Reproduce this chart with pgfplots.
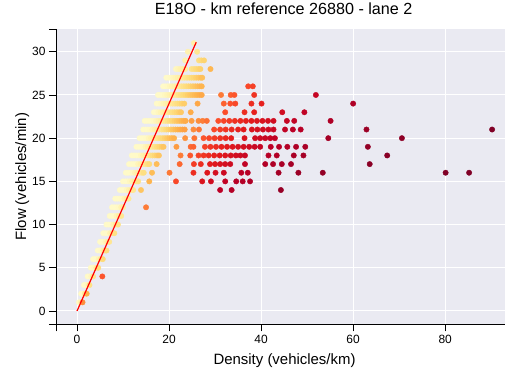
\documentclass[border=0pt]{standalone}
\usepackage{fontspec}
\setmainfont{Liberation Sans}
\usepackage{pgfplots}
\usepackage{pgfplotstable}
\pgfplotsset{compat=1.18}
\definecolor{bgc}{HTML}{EAEAF2}
\pgfplotstableread[row sep=\\]{
d q\\
0.4 1\\ 0.8 1\\ 1.2 1\\
0.9 2\\ 1.3 2\\ 1.7 2\\ 2.1 2\\
1.5 3\\ 1.9 3\\ 2.3 3\\ 2.7 3\\
2.3 4\\ 2.7 4\\ 3.1 4\\ 3.5 4\\ 5.5 4\\
3.0 5\\ 3.4 5\\ 3.8 5\\ 4.2 5\\ 4.6 5\\
3.5 6\\ 3.9 6\\ 4.3 6\\ 4.7 6\\ 5.1 6\\ 5.6 6\\
4.5 7\\ 4.9 7\\ 5.3 7\\ 5.7 7\\ 6.1 7\\ 6.4 7\\
5.0 8\\ 5.4 8\\ 5.8 8\\ 6.2 8\\ 6.6 8\\ 7.0 8\\
5.7 9\\ 6.2 9\\ 6.7 9\\ 7.2 9\\ 7.7 9\\ 8.1 9\\
6.4 10\\ 6.9 10\\ 7.4 10\\ 7.9 10\\ 8.4 10\\ 8.9 10\\
7.1 11\\ 7.6 11\\ 8.1 11\\ 8.6 11\\ 9.1 11\\ 9.6 11\\
7.6 12\\ 8.1 12\\ 8.6 12\\ 9.1 12\\ 9.6 12\\ 10.0 12\\ 15.0 12\\
8.3 13\\ 8.8 13\\ 9.3 13\\ 9.8 13\\ 10.3 13\\ 10.8 13\\ 11.2 13\\
9.3 14\\ 9.8 14\\ 10.3 14\\ 10.8 14\\ 11.3 14\\ 11.8 14\\ 12.2 14\\ 13.9 14\\ 31.1 14\\ 33.6 14\\ 44.3 14\\
10.0 15\\ 10.5 15\\ 11.0 15\\ 11.5 15\\ 12.0 15\\ 12.5 15\\ 13.0 15\\ 13.3 15\\ 15.7 15\\ 21.5 15\\ 27.2 15\\ 29.1 15\\ 32.2 15\\ 34.6 15\\ 36.0 15\\ 37.6 15\\
10.6 16\\ 11.1 16\\ 11.6 16\\ 12.1 16\\ 12.6 16\\ 13.1 16\\ 13.6 16\\ 14.1 16\\ 14.5 16\\ 16.3 16\\ 20.1 16\\ 25.3 16\\ 28.3 16\\ 30.1 16\\ 31.9 16\\ 35.7 16\\ 37.1 16\\ 43.8 16\\ 48.1 16\\ 53.4 16\\ 80.1 16\\ 85.2 16\\
11.3 17\\ 11.8 17\\ 12.3 17\\ 12.8 17\\ 13.3 17\\ 13.8 17\\ 14.3 17\\ 14.8 17\\ 15.3 17\\ 15.7 17\\ 17.3 17\\ 22.3 17\\ 25.4 17\\ 26.9 17\\ 28.9 17\\ 30.0 17\\ 31.1 17\\ 32.2 17\\ 33.3 17\\ 36.5 17\\ 40.9 17\\ 42.6 17\\ 44.5 17\\ 46.5 17\\ 63.6 17\\
11.9 18\\ 12.4 18\\ 12.9 18\\ 13.4 18\\ 13.9 18\\ 14.4 18\\ 14.9 18\\ 15.4 18\\ 15.9 18\\ 16.4 18\\ 16.9 18\\ 17.4 18\\ 17.8 18\\ 22.5 18\\ 24.6 18\\ 26.4 18\\ 27.5 18\\ 28.6 18\\ 29.8 18\\ 31.0 18\\ 32.2 18\\ 33.4 18\\ 34.5 18\\ 35.5 18\\ 36.5 18\\ 41.6 18\\ 43.4 18\\ 47.1 18\\ 49.2 18\\ 67.4 18\\
12.9 19\\ 13.4 19\\ 13.9 19\\ 14.4 19\\ 14.9 19\\ 15.4 19\\ 15.9 19\\ 16.4 19\\ 16.9 19\\ 17.4 19\\ 17.9 19\\ 18.4 19\\ 18.8 19\\ 21.6 19\\ 24.7 19\\ 25.3 19\\ 27.8 19\\ 29.0 19\\ 30.2 19\\ 31.4 19\\ 32.6 19\\ 33.8 19\\ 35.0 19\\ 36.2 19\\ 37.4 19\\ 38.6 19\\ 39.8 19\\ 42.1 19\\ 43.9 19\\ 45.7 19\\ 47.6 19\\ 49.6 19\\ 63.2 19\\
13.6 20\\ 14.1 20\\ 14.6 20\\ 15.1 20\\ 15.6 20\\ 16.1 20\\ 16.6 20\\ 17.1 20\\ 17.6 20\\ 18.1 20\\ 18.6 20\\ 19.1 20\\ 19.6 20\\ 20.1 20\\ 20.6 20\\ 21.1 20\\ 23.5 20\\ 25.5 20\\ 27.5 20\\ 28.7 20\\ 29.9 20\\ 31.1 20\\ 32.3 20\\ 33.5 20\\ 36.4 20\\ 38.7 20\\ 39.8 20\\ 40.9 20\\ 42.0 20\\ 43.0 20\\ 54.6 20\\ 70.6 20\\
14.4 21\\ 14.9 21\\ 15.4 21\\ 15.9 21\\ 16.4 21\\ 16.9 21\\ 17.4 21\\ 17.9 21\\ 18.4 21\\ 18.9 21\\ 19.4 21\\ 19.9 21\\ 20.4 21\\ 20.9 21\\ 21.4 21\\ 21.9 21\\ 22.4 21\\ 22.9 21\\ 23.4 21\\ 25.3 21\\ 26.5 21\\ 29.8 21\\ 31.1 21\\ 32.3 21\\ 33.6 21\\ 35.0 21\\ 36.2 21\\ 38.0 21\\ 39.2 21\\ 40.4 21\\ 41.6 21\\ 42.7 21\\ 45.2 21\\ 46.9 21\\ 48.6 21\\ 62.9 21\\ 90.2 21\\
14.7 22\\ 15.2 22\\ 15.7 22\\ 16.2 22\\ 16.7 22\\ 17.2 22\\ 17.7 22\\ 18.2 22\\ 18.7 22\\ 19.2 22\\ 19.7 22\\ 20.2 22\\ 20.7 22\\ 21.2 22\\ 21.7 22\\ 22.2 22\\ 22.7 22\\ 23.2 22\\ 23.6 22\\ 24.9 22\\ 26.4 22\\ 27.3 22\\ 28.2 22\\ 30.7 22\\ 31.9 22\\ 33.1 22\\ 34.3 22\\ 35.5 22\\ 36.7 22\\ 37.9 22\\ 39.1 22\\ 40.3 22\\ 41.5 22\\ 42.7 22\\ 45.6 22\\ 47.2 22\\ 55.1 22\\
16.7 23\\ 17.2 23\\ 17.7 23\\ 18.2 23\\ 18.7 23\\ 19.2 23\\ 19.7 23\\ 20.2 23\\ 20.7 23\\ 21.2 23\\ 21.7 23\\ 22.2 23\\ 22.6 23\\ 24.7 23\\ 32.2 23\\ 36.4 23\\ 38.5 23\\ 44.6 23\\ 49.4 23\\
17.3 24\\ 17.8 24\\ 18.3 24\\ 18.8 24\\ 19.3 24\\ 19.8 24\\ 20.3 24\\ 20.8 24\\ 21.3 24\\ 21.8 24\\ 22.3 24\\ 22.8 24\\ 23.3 24\\ 26.2 24\\ 31.9 24\\ 33.3 24\\ 34.4 24\\ 37.9 24\\ 40.1 24\\ 60.0 24\\
17.6 25\\ 18.1 25\\ 18.6 25\\ 19.1 25\\ 19.6 25\\ 20.1 25\\ 20.6 25\\ 21.1 25\\ 21.6 25\\ 22.1 25\\ 22.6 25\\ 23.1 25\\ 23.6 25\\ 24.1 25\\ 24.6 25\\ 25.1 25\\ 25.6 25\\ 26.1 25\\ 26.6 25\\ 27.1 25\\ 31.3 25\\ 33.4 25\\ 34.2 25\\ 38.5 25\\ 51.9 25\\
18.7 26\\ 19.2 26\\ 19.7 26\\ 20.2 26\\ 20.7 26\\ 21.2 26\\ 21.7 26\\ 22.2 26\\ 22.7 26\\ 23.2 26\\ 23.7 26\\ 24.2 26\\ 24.7 26\\ 25.2 26\\ 25.7 26\\ 26.2 26\\ 26.7 26\\ 27.1 26\\ 37.2 26\\ 38.2 26\\
19.4 27\\ 19.9 27\\ 20.4 27\\ 20.9 27\\ 21.4 27\\ 21.9 27\\ 22.4 27\\ 22.9 27\\ 23.4 27\\ 23.9 27\\ 24.4 27\\ 24.9 27\\ 25.4 27\\ 25.9 27\\ 26.4 27\\ 26.9 27\\ 27.2 27\\
21.5 28\\ 22.0 28\\ 22.5 28\\ 23.0 28\\ 23.5 28\\ 24.9 28\\ 25.4 28\\ 25.9 28\\ 26.4 28\\ 26.8 28\\ 29.0 28\\
23.5 29\\ 26.5 29\\ 27.0 29\\ 27.6 29\\
24.1 30\\ 26.1 30\\
25.4 31\\
}\flowdata
\begin{document}
\begin{tikzpicture}
\begin{axis}[
  name=ax, set layers,
  scale only axis, width=449bp, height=295bp,
  xmin=-4.57, xmax=93.0, ymin=-1.54, ymax=32.6,
  axis lines*=left,
  axis line style={black, line width=0.9bp, -},
  axis background/.style={fill=bgc},
  grid=major, grid style={white, line width=1bp},
  tick align=outside, major tick length=7bp,
  tick style={black, line width=0.9bp},
  xtick={0,20,40,60,80}, ytick={0,5,10,15,20,25,30},
  extra x ticks={-4.57}, extra x tick labels={},
  extra y ticks={-1.54,32.6}, extra y tick labels={},
  extra tick style={grid=none},
  tick label style={font=\fontsize{12}{14}\selectfont},
  /pgf/number format/assume math mode=true,
  xlabel={Density (vehicles/km)}, ylabel={Flow (vehicles/min)},
  label style={font=\fontsize{15}{17}\selectfont},
  xlabel style={at={(axis description cs:0.509,0)}, anchor=base, yshift=-40bp},
  ylabel style={at={(axis description cs:-0.0668,0.5)}, anchor=base},
  title={E18O - km reference 26880 - lane 2},
  title style={font=\fontsize{16.2}{19}\selectfont, at={(axis description cs:0.507,1)}, anchor=base, yshift=8.6bp},
  colormap={speed}{rgb255(14pt)=(128,0,38) rgb255(27pt)=(189,0,38) rgb255(35pt)=(227,26,28) rgb255(43pt)=(252,78,42) rgb255(50pt)=(253,141,60) rgb255(57pt)=(254,178,76) rgb255(64pt)=(254,217,118) rgb255(71pt)=(255,237,160) rgb255(80pt)=(255,250,200)},
  point meta min=14, point meta max=80,
]
\addplot[scatter, only marks, mark=*, mark size=2.7bp,
  scatter/use mapped color={draw=mapped color, fill=mapped color},
  point meta={max(14,min(80,60*\thisrow{q}/\thisrow{d}))}]
  table[x=d, y=q]{\flowdata};
\addplot[red, line width=1.2bp, on layer=axis foreground] coordinates {(0,0) (25.9,31.1)};
\end{axis}
\pgfresetboundingbox
\path ([xshift=-56bp,yshift=-46.7bp]ax.south west) rectangle ([yshift=29.3bp]ax.north east);
\end{tikzpicture}
\end{document}
